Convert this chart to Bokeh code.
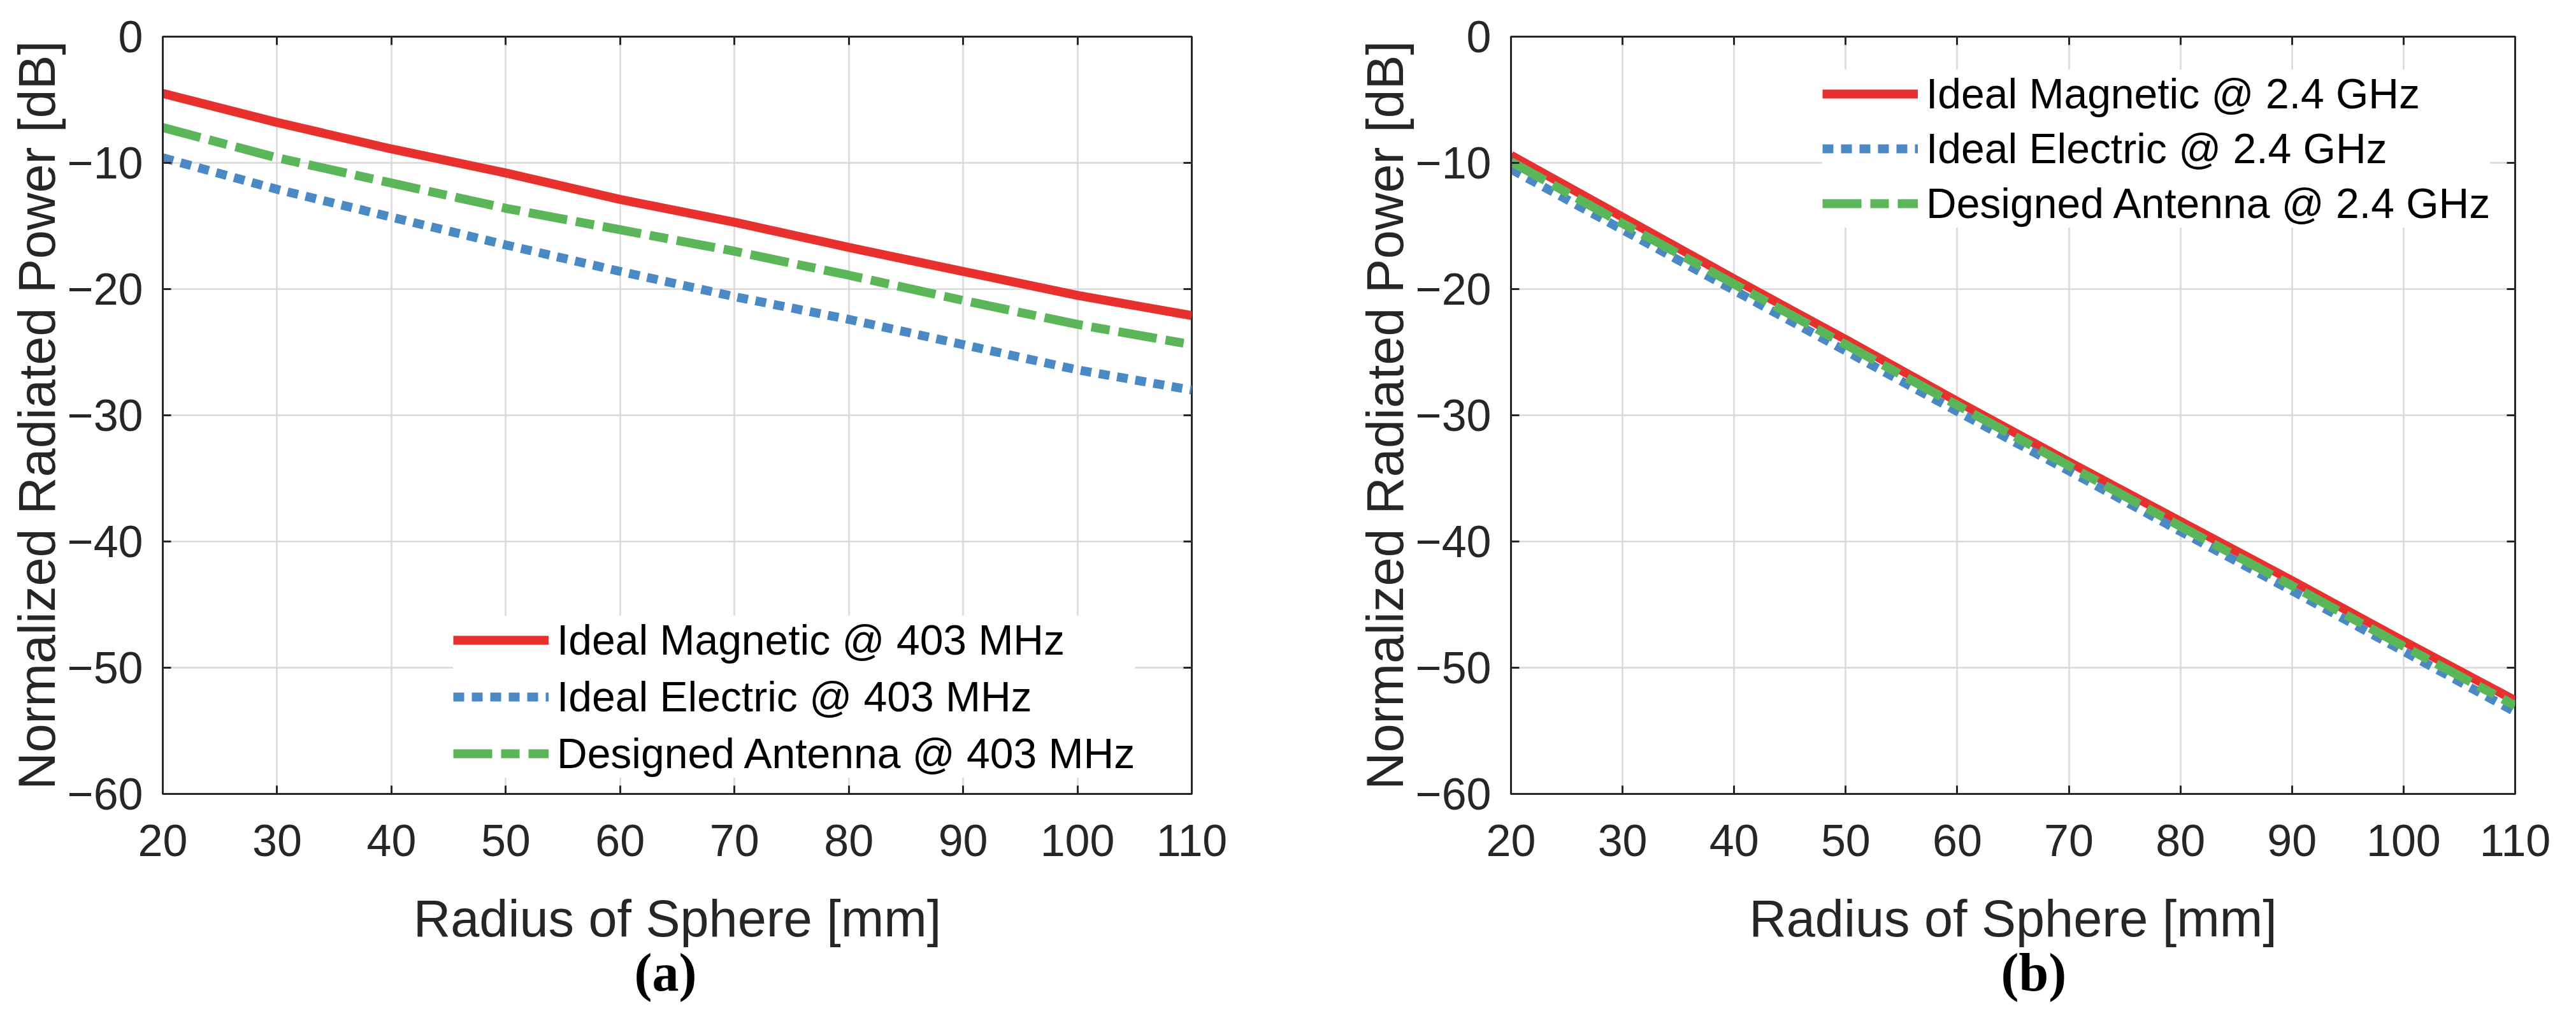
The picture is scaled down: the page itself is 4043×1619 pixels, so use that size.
from bokeh.plotting import figure
from bokeh.models import (Range1d, FixedTicker, LinearAxis, Legend, LegendItem,
                          Title, CustomJSTickFormatter)
from bokeh.layouts import row
from bokeh.embed import file_html
from bokeh.resources import INLINE

# radius of sphere [mm]
radius = [20, 30, 40, 50, 60, 70, 80, 90, 100, 110]

# (a) 403 MHz, normalized radiated power [dB]
mag_403 = [-4.5, -6.8, -8.9, -10.8, -12.9, -14.7, -16.7, -18.6, -20.5, -22.1]
ele_403 = [-9.6, -12.1, -14.3, -16.5, -18.6, -20.6, -22.4, -24.4, -26.4, -28.0]
ant_403 = [-7.2, -9.6, -11.6, -13.6, -15.3, -17.0, -18.9, -20.9, -22.8, -24.4]

# (b) 2.4 GHz
mag_24 = [-9.4, -14.3, -19.2, -24.0, -28.9, -33.7, -38.4, -43.1, -47.9, -52.6]
ele_24 = [-10.5, -15.3, -20.1, -24.9, -29.7, -34.4, -39.2, -43.9, -48.7, -53.5]
ant_24 = [-9.9, -14.8, -19.6, -24.4, -29.2, -34.0, -38.8, -43.5, -48.3, -53.0]

labels_403 = ["Ideal Magnetic @ 403 MHz", "Ideal Electric @ 403 MHz", "Designed Antenna @ 403 MHz"]
labels_24 = ["Ideal Magnetic @ 2.4 GHz", "Ideal Electric @ 2.4 GHz", "Designed Antenna @ 2.4 GHz"]

xticks = [20, 30, 40, 50, 60, 70, 80, 90, 100, 110]
yticks = [0, -10, -20, -30, -40, -50, -60]
ytick_labels = {v: ("\u2212%d" % abs(v) if v < 0 else "%d" % v) for v in yticks}

FONT = "Liberation Sans"
DARK = "#262626"
RED, BLUE, GREEN = "#e8312f", "#4a89c3", "#5bb65a"


def panel(mag, ele, ant, labels, caption, cap_offset, w, h, bl, br, bt, bb, leg_loc, leg_gap):
    p = figure(width=w, height=h, x_range=Range1d(20, 110), y_range=Range1d(-60, 0),
               output_backend="svg", toolbar_location=None,
               min_border_left=bl, min_border_right=br, min_border_top=bt, min_border_bottom=bb,
               x_axis_label="Radius of Sphere [mm]", y_axis_label="Normalized Radiated Power [dB]")
    p.background_fill_color = "white"
    p.border_fill_color = "white"
    p.outline_line_color = DARK
    p.outline_line_width = 3

    for g in (p.xgrid[0], p.ygrid[0]):
        g.grid_line_color = "#d9d9d9"
        g.grid_line_width = 2.5
    p.xgrid[0].ticker = FixedTicker(ticks=xticks)
    p.ygrid[0].ticker = FixedTicker(ticks=yticks)

    xa, ya = p.xaxis[0], p.yaxis[0]
    xa.ticker = FixedTicker(ticks=xticks)
    ya.ticker = FixedTicker(ticks=yticks)
    ya.major_label_overrides = ytick_labels
    for a in (xa, ya):
        a.axis_line_color = DARK
        a.axis_line_width = 3
        a.major_tick_line_color = DARK
        a.major_tick_line_width = 3
        a.major_tick_in = 13
        a.major_tick_out = 0
        a.minor_tick_line_color = None
        a.major_label_text_font = FONT
        a.major_label_text_font_size = "70px"
        a.major_label_text_color = DARK
        a.axis_label_text_font = FONT
        a.axis_label_text_font_size = "81px"
        a.axis_label_text_font_style = "normal"
        a.axis_label_text_color = DARK
    xa.major_label_standoff = 48
    xa.axis_label_standoff = 50
    ya.major_label_standoff = 31
    ya.axis_label_standoff = 0

    # mirrored ticks on the top and right edges of the box
    blank = CustomJSTickFormatter(code="return ''")
    top = LinearAxis(ticker=FixedTicker(ticks=xticks), formatter=blank)
    rgt = LinearAxis(ticker=FixedTicker(ticks=yticks), formatter=blank)
    for a in (top, rgt):
        a.axis_line_color = None
        a.major_tick_line_color = DARK
        a.major_tick_line_width = 3
        a.major_tick_in = 13
        a.major_tick_out = 0
        a.minor_tick_line_color = None
        a.major_label_standoff = 0
        a.major_label_text_font_size = "1px"
    p.add_layout(top, "above")
    p.add_layout(rgt, "right")

    r1 = p.line(radius, mag, line_color=RED, line_width=14)
    r2 = p.line(radius, ele, line_color=BLUE, line_width=14, line_dash="17 12")
    r3 = p.line(radius, ant, line_color=GREEN, line_width=14, line_dash="61 14 29 14")

    leg = Legend(items=[LegendItem(label=labels[0], renderers=[r1]),
                        LegendItem(label=labels[1], renderers=[r2]),
                        LegendItem(label=labels[2], renderers=[r3])],
                 location=leg_loc)
    leg.background_fill_color = "white"
    leg.background_fill_alpha = 1
    leg.border_line_color = None
    leg.label_text_font = FONT
    leg.label_text_font_size = "66px"
    leg.label_text_color = "black"
    leg.glyph_width = 150
    leg.glyph_height = 66
    leg.label_height = 66
    leg.label_standoff = 13
    leg.spacing = leg_gap
    leg.padding = 15
    leg.margin = 0
    p.add_layout(leg, "center")

    # panel caption under the axis title
    t = Title(text=caption, align="left", offset=cap_offset, vertical_align="top",
              text_font="Liberation Serif", text_font_style="bold",
              text_font_size="84px", text_color="black", standoff=-20)
    p.add_layout(t, "below")
    return p


pa = panel(mag_403, ele_403, ant_403, labels_403, "(a)", 740,
           2030, 1600, 255, 160, 42, 343, (456, 25), 13)
pb = panel(mag_24, ele_24, ant_24, labels_24, "(b)", 769,
           1997, 1600, 341, 80, 57, 355, (489, 888), 10)

p = row(pa, pb)
open("out.html", "w").write(file_html(p, INLINE))
